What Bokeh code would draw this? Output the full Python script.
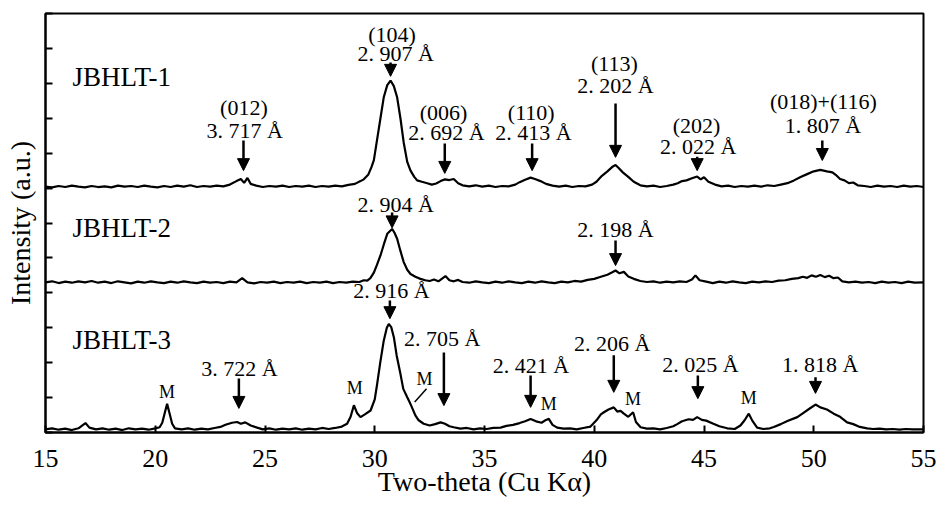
from bokeh.plotting import figure
from bokeh.models import ColumnDataSource, Arrow, NormalHead, FixedTicker, Range1d
from bokeh.core.properties import value
from bokeh.embed import file_html
from bokeh.resources import INLINE

# ---------------- data (two-theta in degrees, stacked intensity in a.u.) ----------------
x1 = [15.0, 15.3, 15.6, 15.9, 16.2, 16.5, 16.8, 17.1, 17.4, 17.7, 18.0, 18.3, 18.6, 18.9, 19.2, 19.5,
      19.8, 20.1, 20.4, 20.7, 21.0, 21.3, 21.6, 21.9, 22.2, 22.5, 22.8, 23.1, 23.4, 23.7, 23.9, 24.05,
      24.2, 24.35, 24.6, 24.9, 25.2, 25.5, 25.8, 26.1, 26.4, 26.7, 27.0, 27.3, 27.6, 27.9, 28.2, 28.5,
      28.8, 29.1, 29.35, 29.5, 29.7, 29.85, 29.96, 30.11, 30.26, 30.41, 30.57, 30.72, 30.87, 31.02,
      31.17, 31.32, 31.48, 31.63, 31.8, 31.93, 32.15, 32.39, 32.6, 32.8, 33.0, 33.2, 33.4, 33.6, 33.8,
      34.0, 34.3, 34.6, 34.9, 35.2, 35.5, 35.8, 36.1, 36.4, 36.6, 36.85, 37.1, 37.3, 37.55, 37.8, 38.1,
      38.4, 38.7, 39.0, 39.3, 39.6, 39.9, 40.1, 40.35, 40.6, 40.85, 40.97, 41.1, 41.3, 41.55, 41.8,
      42.1, 42.4, 42.7, 43.0, 43.3, 43.6, 43.8, 44.0, 44.2, 44.45, 44.69, 44.85, 45.0, 45.2, 45.5,
      45.8, 46.1, 46.4, 46.7, 47.0, 47.3, 47.6, 47.9, 48.2, 48.5, 48.8, 49.1, 49.4, 49.7, 50.0, 50.3,
      50.6, 50.85, 51.0, 51.2, 51.4, 51.6, 51.8, 52.0, 52.3, 52.6, 52.9, 53.2, 53.5, 53.8, 54.1, 54.4,
      54.7, 55.0]
y1 = [7.04, 7.02, 7.06, 7.03, 7.07, 7.04, 7.02, 7.06, 7.03, 7.05, 7.02, 7.07, 7.04, 7.06, 7.03, 7.07,
      7.04, 7.02, 7.06, 7.03, 7.07, 7.04, 7.08, 7.03, 7.06, 7.04, 7.07, 7.05, 7.10, 7.20, 7.26, 7.15,
      7.29, 7.12, 7.07, 7.03, 7.06, 7.04, 7.07, 7.03, 7.06, 7.04, 7.07, 7.03, 7.06, 7.04, 7.07, 7.05,
      7.09, 7.12, 7.20, 7.25, 7.38, 7.60, 7.80, 8.40, 9.00, 9.60, 9.95, 10.08, 9.92, 9.60,
      9.00, 8.30, 7.75, 7.50, 7.32, 7.22, 7.18, 7.14, 7.10, 7.13, 7.20, 7.25, 7.23, 7.26, 7.14,
      7.08, 7.05, 7.08, 7.04, 7.07, 7.03, 7.06, 7.05, 7.10, 7.17, 7.24, 7.30, 7.26, 7.20, 7.12, 7.07,
      7.04, 7.07, 7.03, 7.06, 7.05, 7.10, 7.18, 7.35, 7.48, 7.62, 7.66, 7.58, 7.45, 7.32, 7.18,
      7.08, 7.05, 7.07, 7.03, 7.06, 7.10, 7.14, 7.20, 7.22, 7.28, 7.33, 7.25, 7.31, 7.18, 7.10,
      7.05, 7.07, 7.03, 7.06, 7.04, 7.07, 7.04, 7.08, 7.06, 7.10, 7.14, 7.22, 7.32, 7.40, 7.48, 7.52,
      7.48, 7.45, 7.38, 7.26, 7.22, 7.14, 7.16, 7.08, 7.06, 7.03, 7.07, 7.04, 7.06, 7.03, 7.07, 7.04,
      7.06, 7.03]

x2 = [15.0, 15.3, 15.6, 15.9, 16.2, 16.5, 16.8, 17.1, 17.4, 17.7, 18.0, 18.3, 18.6, 18.9, 19.2, 19.5,
      19.8, 20.1, 20.4, 20.7, 21.0, 21.3, 21.6, 21.9, 22.2, 22.5, 22.8, 23.1, 23.4, 23.7, 23.96, 24.2,
      24.5, 24.8, 25.1, 25.4, 25.7, 26.0, 26.3, 26.6, 26.9, 27.2, 27.5, 27.8, 28.1, 28.4, 28.7, 29.0,
      29.3, 29.5, 29.66, 29.8, 29.96, 30.1, 30.26, 30.42, 30.57, 30.79, 30.9, 31.02, 31.17, 31.32,
      31.48, 31.63, 31.85, 32.08, 32.3, 32.5, 32.7, 32.9, 33.22, 33.4, 33.6, 33.8, 34.0, 34.3, 34.6,
      34.9, 35.2, 35.5, 35.8, 36.1, 36.4, 36.7, 37.0, 37.3, 37.6, 37.9, 38.2, 38.5, 38.8, 39.1, 39.4,
      39.7, 40.0, 40.3, 40.6, 40.8, 40.97, 41.15, 41.35, 41.55, 41.8, 42.1, 42.4, 42.7, 43.0, 43.3,
      43.6, 43.9, 44.2, 44.45, 44.61, 44.8, 45.1, 45.4, 45.7, 46.0, 46.3, 46.6, 46.9, 47.2, 47.5, 47.8,
      48.1, 48.4, 48.7, 49.0, 49.3, 49.5, 49.7, 49.9, 50.1, 50.3, 50.5, 50.7, 50.9, 51.1, 51.3, 51.6,
      51.9, 52.2, 52.5, 52.8, 53.1, 53.4, 53.7, 54.0, 54.3, 54.6, 55.0]
y2 = [4.30, 4.33, 4.28, 4.32, 4.29, 4.33, 4.30, 4.34, 4.29, 4.32, 4.28, 4.33, 4.30, 4.27, 4.32, 4.29,
      4.33, 4.30, 4.28, 4.32, 4.29, 4.33, 4.30, 4.28, 4.32, 4.29, 4.31, 4.28, 4.32, 4.30, 4.42, 4.30,
      4.27, 4.31, 4.29, 4.32, 4.28, 4.31, 4.29, 4.32, 4.28, 4.31, 4.29, 4.32, 4.28, 4.31, 4.29, 4.32,
      4.31, 4.36, 4.35, 4.42, 4.58, 4.80, 5.07, 5.40, 5.69, 5.83, 5.72, 5.55, 5.20, 4.88,
      4.66, 4.54, 4.46, 4.40, 4.36, 4.34, 4.38, 4.33, 4.48, 4.36, 4.33, 4.37, 4.31, 4.29, 4.33,
      4.30, 4.28, 4.32, 4.29, 4.33, 4.30, 4.28, 4.32, 4.29, 4.33, 4.30, 4.28, 4.32, 4.30, 4.34, 4.32,
      4.37, 4.40, 4.46, 4.52, 4.58, 4.64, 4.56, 4.60, 4.47, 4.40, 4.34, 4.31, 4.33, 4.29, 4.32,
      4.30, 4.33, 4.31, 4.38, 4.50, 4.36, 4.32, 4.28, 4.32, 4.29, 4.33, 4.30, 4.28, 4.32, 4.30, 4.33,
      4.31, 4.35, 4.36, 4.40, 4.42, 4.46, 4.43, 4.50, 4.46, 4.51, 4.45, 4.49, 4.42, 4.44, 4.33, 4.30,
      4.32, 4.29, 4.31, 4.28, 4.32, 4.29, 4.31, 4.28, 4.32, 4.29, 4.30]

x3 = [15.0, 15.3, 15.6, 15.9, 16.2, 16.5, 16.82, 17.0, 17.3, 17.6, 17.9, 18.2, 18.5, 18.8, 19.1, 19.4,
      19.7, 20.0, 20.2, 20.32, 20.45, 20.54, 20.65, 20.77, 20.9, 21.2, 21.5, 21.8, 22.1, 22.4, 22.7,
      22.97, 23.2, 23.5, 23.73, 23.9, 24.1, 24.35, 24.64, 24.9, 25.2, 25.5, 25.8, 26.1, 26.4, 26.7,
      27.0, 27.3, 27.6, 27.9, 28.2, 28.5, 28.74, 28.9, 29.05, 29.2, 29.35, 29.55, 29.81, 30.0, 30.11,
      30.25, 30.41, 30.55, 30.64, 30.75, 30.87, 31.0, 31.17, 31.3, 31.48, 31.58, 31.66, 31.85, 32.0,
      32.23, 32.5, 32.75, 33.0, 33.2, 33.4, 33.6, 33.9, 34.2, 34.5, 34.8, 35.1, 35.4, 35.73, 36.0,
      36.3, 36.6, 36.85, 37.1, 37.35, 37.6, 37.8, 37.93, 38.1, 38.31, 38.6, 38.9, 39.2, 39.5, 39.83,
      40.1, 40.3, 40.44, 40.65, 40.89, 41.05, 41.2, 41.35, 41.55, 41.77, 41.9, 42.11, 42.4, 42.7, 43.0,
      43.3, 43.6, 43.78, 44.0, 44.3, 44.5, 44.69, 44.9, 45.1, 45.4, 45.7, 46.06, 46.4, 46.66, 46.85,
      47.04, 47.2, 47.42, 47.7, 48.0, 48.18, 48.5, 48.8, 49.25, 49.5, 49.8, 50.08, 50.3, 50.6, 50.91,
      51.2, 51.52, 51.8, 52.1, 52.43, 52.7, 53.0, 53.3, 53.6, 53.9, 54.2, 54.5, 55.0]
y3 = [0.09, 0.12, 0.08, 0.11, 0.07, 0.12, 0.27, 0.14, 0.09, 0.12, 0.08, 0.11, 0.07, 0.12, 0.09, 0.11,
      0.08, 0.12, 0.15, 0.28, 0.60, 0.82, 0.55, 0.25, 0.12, 0.09, 0.12, 0.08, 0.11, 0.09, 0.13,
      0.16, 0.22, 0.28, 0.30, 0.25, 0.29, 0.20, 0.14, 0.09, 0.12, 0.08, 0.11, 0.09, 0.12, 0.08,
      0.11, 0.09, 0.13, 0.10, 0.13, 0.17, 0.25, 0.45, 0.78, 0.55, 0.44, 0.52, 0.63, 0.95, 1.39,
      2.00, 2.63, 3.00, 3.11, 3.02, 2.73, 2.20, 1.68, 1.25, 1.01, 0.88, 0.77, 0.49, 0.35,
      0.25, 0.20, 0.24, 0.29, 0.25, 0.18, 0.15, 0.11, 0.13, 0.09, 0.12, 0.10, 0.13, 0.14, 0.19,
      0.22, 0.27, 0.32, 0.39, 0.32, 0.28, 0.36, 0.39, 0.22, 0.14, 0.11, 0.12, 0.09, 0.13, 0.17,
      0.35, 0.52, 0.58, 0.66, 0.72, 0.60, 0.62, 0.54, 0.45, 0.58, 0.30, 0.15, 0.11, 0.12, 0.09,
      0.13, 0.18, 0.24, 0.32, 0.38, 0.36, 0.44, 0.36, 0.34, 0.26, 0.18, 0.12, 0.10, 0.20, 0.35,
      0.54, 0.34, 0.14, 0.10, 0.12, 0.16, 0.24, 0.33, 0.44, 0.55, 0.68, 0.80, 0.72, 0.66, 0.54,
      0.45, 0.29, 0.24, 0.16, 0.12, 0.10, 0.11, 0.09, 0.10, 0.08, 0.10, 0.09, 0.09]

x_ticks = [15, 20, 25, 30, 35, 40, 45, 50, 55]
y_ticks = list(range(13))

sample_names = ["JBHLT-1", "JBHLT-2", "JBHLT-3"]

# peak labels: (text, x, y)
peak_labels = [
    ("(012)", 24.04, 9.31), ("3. 717 Å", 24.08, 8.65),
    ("(104)", 30.79, 11.40), ("2. 907 Å", 30.95, 10.85),
    ("(006)", 33.13, 9.16), ("2. 692 Å", 33.27, 8.59),
    ("(110)", 37.13, 9.16), ("2. 413 Å", 37.23, 8.59),
    ("(113)", 40.92, 10.57), ("2. 202 Å", 40.97, 9.95),
    ("(202)", 44.66, 8.78), ("2. 022 Å", 44.73, 8.20),
    ("(018)+(116)", 50.44, 9.49), ("1. 807 Å", 50.42, 8.78),
    ("2. 904 Å", 30.95, 6.54), ("2. 198 Å", 40.97, 5.80),
    ("3. 722 Å", 23.84, 1.82), ("2. 916 Å", 30.76, 4.07), ("2. 705 Å", 33.07, 2.68),
    ("2. 421 Å", 37.12, 1.92), ("2. 206 Å", 40.82, 2.56), ("2. 025 Å", 44.84, 1.96),
    ("1. 818 Å", 50.29, 1.96),
]
m_labels = [(20.54, 1.17), (29.09, 1.27), (32.27, 1.52), (37.93, 0.82), (41.77, 0.97), (47.04, 0.99)]
# arrows: (x, y_start, y_end)
arrows = [
    (24.02, 8.36, 7.50), (30.72, 10.60, 10.20), (33.19, 8.28, 7.42), (37.17, 8.28, 7.50),
    (40.97, 9.42, 7.88), (44.69, 7.90, 7.50), (50.39, 8.36, 7.79),
    (30.79, 6.30, 5.86), (40.97, 5.50, 4.78),
    (23.81, 1.55, 0.69), (30.69, 3.78, 3.26), (33.15, 2.29, 0.77), (37.10, 1.63, 0.72),
    (40.89, 2.21, 1.15), (44.72, 1.63, 0.97), (50.08, 1.58, 1.12),
]
name_pos = [(16.23, 10.19), (16.23, 5.86), (16.23, 2.66)]

FONT = "Liberation Serif"

p = figure(width=938, height=507, x_range=Range1d(15, 55), y_range=Range1d(0, 12),
           output_backend="svg", toolbar_location=None,
           min_border_left=45, min_border_right=15, min_border_top=13, min_border_bottom=75)
p.xgrid.visible = False
p.ygrid.visible = False
p.outline_line_color = "black"
p.outline_line_width = 2
p.outline_line_alpha = 1.0
p.background_fill_color = "white"
p.border_fill_color = "white"

for ax in (p.xaxis[0], p.yaxis[0]):
    ax.axis_line_width = 2
    ax.axis_line_color = "black"
    ax.major_tick_in = 7
    ax.major_tick_out = 0
    ax.major_tick_line_width = 2
    ax.major_tick_line_color = "black"
    ax.minor_tick_line_color = None
    ax.axis_label_text_font = FONT
    ax.axis_label_text_font_style = "normal"
    ax.axis_label_text_color = "black"

p.xaxis.ticker = FixedTicker(ticks=x_ticks)
p.xaxis.major_label_text_font = FONT
p.xaxis.major_label_text_font_size = "26px"
p.xaxis.major_label_text_color = "black"
p.xaxis.major_label_standoff = 17
p.xaxis.axis_label = "Two-theta (Cu Kα)"
p.xaxis.axis_label_text_font_size = "28px"
p.xaxis.axis_label_standoff = -4

p.yaxis.ticker = FixedTicker(ticks=y_ticks)
p.yaxis.major_label_overrides = {t: "" for t in y_ticks}
p.yaxis.major_label_text_font_size = "1px"
p.yaxis.major_label_text_color = None
p.yaxis.major_label_standoff = 0
p.yaxis.axis_label = "Intensity (a.u.)"
p.yaxis.axis_label_text_font_size = "28px"
p.yaxis.axis_label_standoff = 10

for xs, ys in ((x1, y1), (x2, y2), (x3, y3)):
    p.line(xs, ys, line_color="black", line_width=2.2)

p.text(x=[q[0] for q in name_pos], y=[q[1] for q in name_pos], text=sample_names,
       text_font=value(FONT), text_font_size=value("27px"), text_align="left",
       text_baseline="middle", text_color="black")

p.text(x=[q[1] for q in peak_labels], y=[q[2] for q in peak_labels], text=[q[0] for q in peak_labels],
       text_font=value(FONT), text_font_size=value("22px"), text_align="center",
       text_baseline="middle", text_color="black")

p.text(x=[q[0] for q in m_labels], y=[q[1] for q in m_labels], text=["M"] * len(m_labels),
       text_font=value(FONT), text_font_size=value("18px"), text_align="center",
       text_baseline="middle", text_color="black")

p.line([32.36, 31.82], [1.25, 0.87], line_color="black", line_width=1.5)

asrc = ColumnDataSource(dict(x=[a[0] for a in arrows], y0=[a[1] for a in arrows], y1=[a[2] for a in arrows]))
p.add_layout(Arrow(source=asrc, x_start="x", y_start="y0", x_end="x", y_end="y1",
                   line_width=2.5, line_color="black",
                   end=NormalHead(size=12, fill_color="black", line_color="black", line_width=1)))

open("out.html", "w").write(file_html(p, INLINE))
